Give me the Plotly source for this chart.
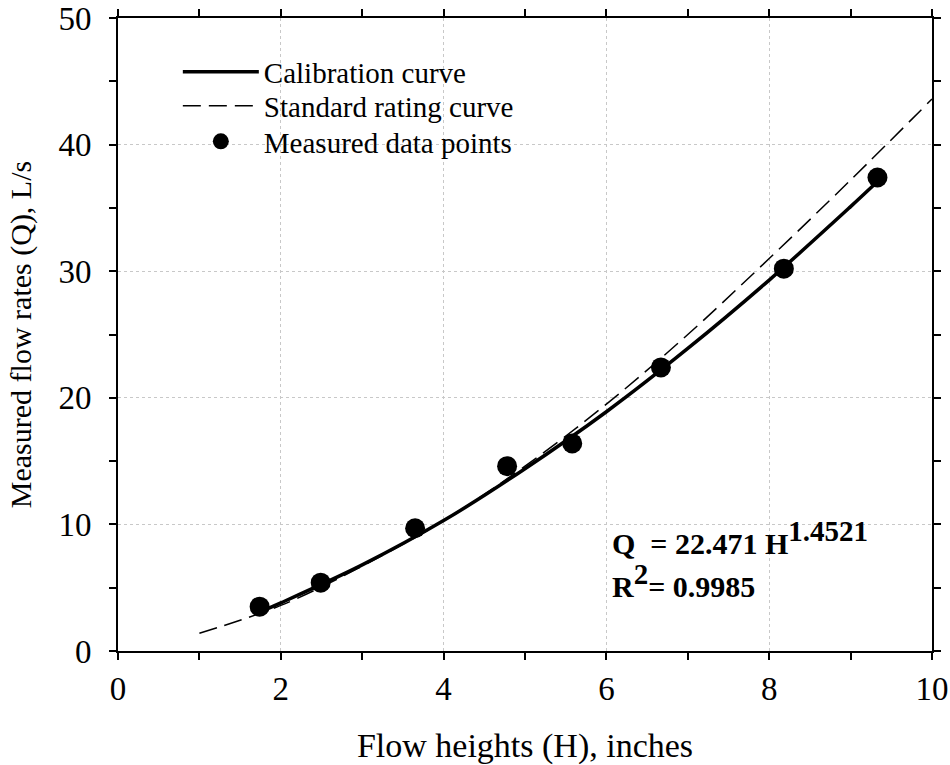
import plotly.graph_objects as go

# Measured data points
meas_h = [1.74, 2.49, 3.65, 4.78, 5.58, 6.67, 8.18, 9.33]
meas_q = [3.5, 5.4, 9.7, 14.6, 16.4, 22.4, 30.2, 37.4]

# Calibration curve
cal_h = [1.75, 2.0, 3.0, 4.0, 5.0, 6.0, 7.0, 8.0, 9.0, 9.35]
cal_q = [3.1, 3.8, 6.8, 10.3, 14.4, 18.9, 23.9, 29.3, 35.1, 37.2]

# Standard rating curve
std_h = [1.0, 2.0, 3.0, 4.0, 5.0, 6.0, 7.0, 8.0, 9.0, 10.0]
std_q = [1.4, 3.6, 6.7, 10.3, 14.6, 19.5, 25.0, 31.0, 37.2, 43.6]

FONT = "Liberation Serif"

fig = go.Figure()
fig.add_trace(go.Scatter(x=cal_h, y=cal_q, mode="lines", name="Calibration curve",
                         line=dict(color="black", width=3.5, shape="spline"), legend="legend"))
fig.add_trace(go.Scatter(x=std_h, y=std_q, mode="lines", name="Standard rating curve",
                         line=dict(color="black", width=1.5, dash="18px,8px", shape="spline"), legend="legend2"))
fig.add_trace(go.Scatter(x=meas_h, y=meas_q, mode="markers", name="Measured data points",
                         marker=dict(color="black", size=20), legend="legend3"))

axis_common = dict(
    showline=True, linecolor="black", linewidth=2, mirror="ticks",
    ticks="outside", ticklen=7, tickwidth=1.5, tickcolor="black",
    showgrid=True, gridcolor="#c8c8c8", griddash="dot", gridwidth=1,
    zeroline=False, automargin=False,
    tickfont=dict(family=FONT, size=33, color="black"),
)

fig.update_xaxes(range=[0, 10], dtick=2, tick0=0,
                 minor=dict(dtick=1, ticks="outside", ticklen=7, tickcolor="black", showgrid=False),
                 title=dict(text="Flow heights (H), inches", font=dict(family=FONT, size=34, color="black"), standoff=30),
                 **axis_common)
fig.update_yaxes(range=[0, 50], dtick=10, tick0=0, ticklabelstandoff=11,
                 minor=dict(dtick=5, ticks="outside", ticklen=7, tickcolor="black", showgrid=False),
                 title=dict(text="Measured flow rates (Q), L/s", font=dict(family=FONT, size=30, color="black"), standoff=18),
                 **axis_common)

fig.add_annotation(x=6.04, y=9.0, xref="x", yref="y", xanchor="left", yanchor="middle",
                   text="<b>Q  = 22.471 H<sup><span style='font-size:29px'>1.4521</span></sup></b>", showarrow=False,
                   font=dict(family=FONT, size=30, color="black"))
fig.add_annotation(x=6.04, y=5.55, xref="x", yref="y", xanchor="left", yanchor="middle",
                   text="<b>R<sup><span style='font-size:29px'>2</span></sup>= 0.9985</b>", showarrow=False,
                   font=dict(family=FONT, size=30, color="black"))

leg_common = dict(xanchor="left", yanchor="middle", bgcolor="rgba(0,0,0,0)",
                  font=dict(family=FONT, size=29, color="black"), itemwidth=76)
LEG_X = 0.0735
fig.update_layout(
    width=950, height=765,
    margin=dict(l=118, r=18, t=18, b=114),
    plot_bgcolor="white", paper_bgcolor="white",
    showlegend=True,
    legend=dict(x=LEG_X, y=0.915, **leg_common),
    legend2=dict(x=LEG_X, y=0.861, **leg_common),
    legend3=dict(x=LEG_X, y=0.805, **leg_common),
)

fig.write_html("out.html")
